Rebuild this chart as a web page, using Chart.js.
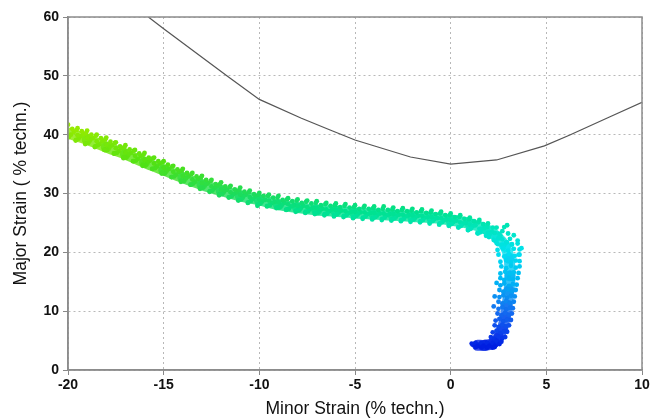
<!DOCTYPE html>
<html>
<head>
<meta charset="utf-8">
<script src="https://cdn.jsdelivr.net/npm/chart.js@4.4.1/dist/chart.umd.min.js"></script>
<style>
  body { margin: 0; background: #fff; }
  #wrap { width: 662px; height: 420px; }
</style>
</head>
<body>
<div id="wrap"><canvas id="fld" width="662" height="420"></canvas></div>
<script>
// ----------------------------------------------------
//  dados (deformações em % techn.)
// ----------------------------------------------------
const xTicks = [-20, -15, -10, -5, 0, 5, 10];
const yTicks = [0, 10, 20, 30, 40, 50, 60];

// curva limite (FLC)
const flcX = [-15.8, -15, -11.7, -10, -7.8, -6.3, -5, -2.1, 0, 2.4, 4.9, 6.2, 8.3, 10];
const flcY = [60, 58, 50, 46, 42.8, 40.8, 39.1, 36.2, 35, 35.7, 38.1, 39.9, 43, 45.5];

// linha central da nuvem de pontos
const centroX = [-20, -19, -18, -17, -16, -15, -14, -13, -12, -11, -10, -9, -8, -7, -6, -5, -4, -3, -2, -1, 0, 1, 1.8, 2.4, 2.85, 3.05, 3.1, 3.05, 2.95, 2.85, 2.7, 2.5, 2.2, 1.8, 1.4];
const centroY = [40.3, 39.2, 37.9, 36.7, 35.3, 34.0, 32.7, 31.5, 30.5, 29.6, 28.9, 28.1, 27.6, 27.2, 27.0, 26.7, 26.5, 26.3, 26.1, 25.9, 25.5, 24.9, 24.0, 22.7, 21.0, 19.0, 16.0, 13.5, 11.0, 9.0, 7.0, 5.5, 4.5, 4.2, 4.2];

// nuvem de pontos medidos, por trecho
const bandSteep = [
  [-20,41.7],[-19.7,40.5],[-19.85,40.0],[-19.6,39.0],[-19.95,39.6],[-19.78,41.0],
  [-19.5,41.1],[-19.2,40.1],[-19.35,39.7],[-19.1,38.4],[-19.45,39.3],[-19.28,40.6],
  [-19,40.7],[-18.7,39.4],[-18.85,39.2],[-18.6,37.9],[-18.95,38.6],[-18.78,40.0],
  [-18.5,40.0],[-18.2,38.9],[-18.35,38.4],[-18.1,37.4],[-18.45,38.2],[-18.28,39.4],
  [-18,39.5],[-17.7,38.2],[-17.85,37.9],[-17.6,36.8],[-17.95,37.4],[-17.78,38.8],
  [-17.5,38.7],[-17.2,37.7],[-17.35,37.2],[-17.1,36.0],[-17.45,36.9],[-17.28,38.0],
  [-17,38.2],[-16.7,36.9],[-16.85,36.6],[-16.6,35.5],[-16.95,36.1],[-16.78,37.5],
  [-16.5,37.4],[-16.2,36.4],[-16.35,35.9],[-16.1,34.7],[-16.45,35.6],[-16.28,36.8],
  [-16,36.9],[-15.7,35.6],[-15.85,35.3],[-15.6,34.2],[-15.95,34.8],[-15.78,36.1],
  [-15.5,36.1],[-15.2,35.1],[-15.35,34.6],[-15.1,33.4],[-15.45,34.3],[-15.28,35.5],
  [-15,35.5],[-14.7,34.2],[-14.85,33.9],[-14.6,32.8],[-14.95,33.4],[-14.78,34.9],
  [-14.5,34.7],[-14.2,33.7],[-14.35,33.2],[-14.1,32.0],[-14.45,32.9],[-14.28,34.1],
  [-14,34.2],[-13.7,32.9],[-13.85,32.6],[-13.6,31.5],[-13.95,32.1],[-13.78,33.5],
  [-13.5,33.5],[-13.2,32.5],[-13.35,32.0],[-13.1,30.8],[-13.45,31.7],[-13.28,32.9],
  [-13,33.0],[-12.7,31.7],[-12.85,31.5],[-12.6,30.3],[-12.95,31.0],[-12.78,32.3],
  [-12.5,32.3],[-12.2,31.3],[-12.35,30.9],[-12.1,29.7],[-12.45,30.5],[-12.28,31.6],
  [-12,31.9],[-11.7,30.6],[-11.85,30.4],[-11.6,29.3],[-11.95,29.9],[-11.78,31.2],
  [-11.5,31.3],[-11.2,30.2],[-11.35,29.9],[-11.1,28.8],[-11.45,29.5],[-11.28,30.7],
  [-11,31.0],[-10.7,29.8],[-10.85,29.5],[-10.6,28.4],[-10.95,29.0],[-10.78,30.3],
  [-10.5,30.5],[-10.2,29.5],[-10.35,29.1],[-10.1,27.9],[-10.45,28.7],[-10.28,29.9]
];
const bandFlat = [
  [-10,30.1],[-9.7,28.9],[-9.85,28.7],[-9.6,27.8],[-9.95,28.3],[-9.78,29.6],
  [-9.5,29.8],[-9.2,28.6],[-9.35,28.4],[-9.1,27.5],[-9.45,28.0],[-9.28,29.3],
  [-9,29.6],[-8.7,28.4],[-8.85,28.0],[-8.6,27.2],[-8.95,27.7],[-8.78,28.9],
  [-8.5,29.2],[-8.2,28.0],[-8.35,27.8],[-8.1,26.9],[-8.45,27.4],[-8.28,28.7],
  [-8,29.0],[-7.7,27.9],[-7.85,27.5],[-7.6,26.7],[-7.95,27.2],[-7.78,28.4],
  [-7.5,28.8],[-7.2,27.6],[-7.35,27.4],[-7.1,26.5],[-7.45,27.0],[-7.28,28.3],
  [-7,28.7],[-6.7,27.4],[-6.85,27.2],[-6.6,26.3],[-6.95,26.8],[-6.78,28.0],
  [-6.5,28.4],[-6.2,27.3],[-6.35,27.0],[-6.1,26.1],[-6.45,26.6],[-6.28,27.9],
  [-6,28.3],[-5.7,27.1],[-5.85,26.9],[-5.6,26.0],[-5.95,26.5],[-5.78,27.7],
  [-5.5,28.2],[-5.2,26.9],[-5.35,26.7],[-5.1,25.8],[-5.45,26.3],[-5.28,27.6],
  [-5,28.0],[-4.7,26.8],[-4.85,26.6],[-4.6,25.7],[-4.95,26.2],[-4.78,27.4],
  [-4.5,27.9],[-4.2,26.7],[-4.35,26.5],[-4.1,25.6],[-4.45,26.1],[-4.28,27.4],
  [-4,27.8],[-3.7,26.6],[-3.85,26.4],[-3.6,25.5],[-3.95,26.0],[-3.78,27.2],
  [-3.5,27.8],[-3.2,26.5],[-3.35,26.3],[-3.1,25.4],[-3.45,25.9],[-3.28,27.2],
  [-3,27.6],[-2.7,26.4],[-2.85,26.2],[-2.6,25.3],[-2.95,25.8],[-2.78,27.0],
  [-2.5,27.5],[-2.2,26.3],[-2.35,26.1],[-2.1,25.2],[-2.45,25.7],[-2.28,27.0],
  [-2,27.4],[-1.7,26.2],[-1.85,26.0],[-1.6,25.1],[-1.95,25.6],[-1.78,26.8],
  [-1.5,27.3],[-1.2,26.0],[-1.35,25.9],[-1.1,24.9],[-1.45,25.5],[-1.28,26.7],
  [-1,27.1],[-0.7,25.8],[-0.85,25.7],[-0.6,24.7],[-0.95,25.3],[-0.78,26.5],
  [-0.5,26.9],[-0.2,25.6],[-0.35,25.5],[-0.1,24.5],[-0.45,25.1],[-0.28,26.3]
];
// pontos que preenchem os vãos da faixa
const bandFill = [
  [-19.55,40.8],[-19.5,39.9],[-19.58,39.1],[-19.05,40.3],[-19.0,39.5],[-19.08,38.5],
  [-18.55,39.8],[-18.5,38.9],[-18.58,38.0],[-18.05,39.2],[-18.0,38.3],[-18.08,37.5],
  [-17.55,38.6],[-17.5,37.7],[-17.58,36.8],[-17.05,37.9],[-17.0,37.0],[-17.08,36.2],
  [-16.55,37.3],[-16.5,36.4],[-16.58,35.5],[-16.05,36.6],[-16.0,35.7],[-16.08,34.9],
  [-15.55,36.0],[-15.5,35.1],[-15.58,34.2],[-15.05,35.3],[-15.0,34.4],[-15.08,33.6],
  [-14.55,34.6],[-14.5,33.7],[-14.58,32.8],[-14.05,33.9],[-14.0,33.0],[-14.08,32.2],
  [-13.55,33.3],[-13.5,32.4],[-13.58,31.5],[-13.05,32.7],[-13.0,31.8],[-13.08,31.0],
  [-12.55,32.1],[-12.5,31.2],[-12.58,30.4],[-12.05,31.6],[-12.0,30.7],[-12.08,29.9],
  [-11.55,31.1],[-11.5,30.2],[-11.58,29.4],[-11.05,30.6],[-11.0,29.8],[-11.08,28.9],
  [-10.55,30.2],[-10.5,29.4],[-10.58,28.5],[-10.05,29.8],[-10.0,29.0],[-10.08,28.1],
  [-9.55,29.6],[-9.5,28.8],[-9.58,27.9],[-9.05,29.3],[-9.0,28.5],[-9.08,27.6],
  [-8.55,29.0],[-8.5,28.2],[-8.58,27.3],[-8.05,28.8],[-8.0,27.9],[-8.08,27.1],
  [-7.55,28.6],[-7.5,27.7],[-7.58,26.9],[-7.05,28.4],[-7.0,27.5],[-7.08,26.7],
  [-6.55,28.2],[-6.5,27.3],[-6.58,26.5],[-6.05,28.0],[-6.0,27.2],[-6.08,26.3],
  [-5.55,27.9],[-5.5,27.0],[-5.58,26.2],[-5.05,27.7],[-5.0,26.9],[-5.08,26.0],
  [-4.55,27.6],[-4.5,26.8],[-4.58,25.9],[-4.05,27.5],[-4.0,26.7],[-4.08,25.8],
  [-3.55,27.4],[-3.5,26.6],[-3.58,25.7],[-3.05,27.3],[-3.0,26.5],[-3.08,25.6],
  [-2.55,27.2],[-2.5,26.4],[-2.58,25.5],[-2.05,27.1],[-2.0,26.3],[-2.08,25.4],
  [-1.55,27.0],[-1.5,26.2],[-1.58,25.3],[-1.05,26.8],[-1.0,26.0],[-1.08,25.1],
  [-0.55,26.6],[-0.5,25.8],[-0.58,24.9],[-0.05,26.3],[0.0,25.5],[-0.08,24.6],
  [0.45,26.0],[0.5,25.1],[0.42,24.3],[0.95,25.6],[1.0,24.7],[0.92,23.8],
  [1.45,25.1],[1.5,24.0],[1.42,23.2],[1.9,24.3],[1.95,23.3],[2.3,23.3],
  [2.55,23.1],[2.7,22.2],[2.8,21.2]
];
const bandTurn = [
  [0,26.6],[0.3,25.4],[0.15,25.2],[0.4,24.2],[0.05,24.8],[0.22,26.0],
  [0.5,26.3],[0.8,25.0],[0.65,24.9],[0.9,23.8],[0.55,24.5],[0.72,25.7],
  [1,25.9],[1.3,24.6],[1.15,24.4],[1.4,23.3],[1.05,24.0],[1.22,25.3],
  [1.5,25.5],[1.75,24.1],[1.6,23.9],[1.85,22.8],[1.55,23.4],[1.7,24.8],
  [1.95,24.9],[2.15,23.5],[2.05,23.1],[2.25,22.1],[2.0,22.6],[2.2,24.2],
  [2.4,24.2],[2.6,22.8],[2.5,22.4],[2.45,21.4],[2.35,21.9],[2.7,23.6],
  [2.8,24.3],[3.0,23.2],[3.1,22.3],[2.9,21.7],[3.3,22.9],[3.5,22.0],
  [3.7,20.7],[3.55,19.6],[2.95,24.6],[3.2,21.3]
];
const bandDown = [
  [2.4,21.6],[2.65,21.3],[2.95,21.7],[3.2,21.4],[3.5,21.5],
  [2.45,20.4],[2.75,20.7],[3.0,20.3],[3.3,20.6],[3.6,20.5],
  [2.5,19.6],[2.8,19.3],[3.05,19.7],[3.35,19.4],[3.6,19.6],
  [2.6,18.4],[2.9,18.7],[3.15,18.3],[3.4,18.6],[3.6,18.5],
  [2.65,17.6],[2.9,17.3],[3.15,17.7],[3.4,17.4],[3.6,17.6],
  [2.6,16.4],[2.85,16.7],[3.1,16.3],[3.3,16.6],[3.55,16.5],
  [2.6,15.6],[2.8,15.3],[3.05,15.7],[3.25,15.4],[3.5,15.6],
  [2.6,14.4],[2.8,14.7],[3.05,14.3],[3.25,14.6],[3.45,14.5],
  [2.55,13.6],[2.75,13.3],[3.0,13.7],[3.2,13.4],[3.4,13.6],
  [2.55,12.4],[2.75,12.7],[2.95,12.3],[3.15,12.6],[3.35,12.5],
  [2.5,11.6],[2.7,11.3],[2.9,11.7],[3.1,11.4],[3.3,11.6],
  [2.5,10.4],[2.7,10.7],[2.9,10.3],[3.1,10.6],[3.25,10.5],
  [2.45,9.6],[2.65,9.3],[2.85,9.7],[3.05,9.4],[3.2,9.6],
  [2.35,8.4],[2.55,8.7],[2.75,8.3],[2.95,8.6],[3.15,8.5],
  [2.3,7.6],[2.5,7.3],[2.7,7.7],[2.9,7.4],[3.05,7.6],
  [2.2,6.4],[2.4,6.7],[2.6,6.3],[2.8,6.6],[2.95,6.5],
  [2.1,5.6],[2.3,5.3],[2.5,5.7],[2.7,5.4],[2.85,5.6],
  [2.3,12.5],[2.25,10.8],[2.4,14.8]
];
const bandFoot = [
  [1.15,4.3],[1.3,4.6],[1.3,3.9],[1.45,4.3],[1.6,4.6],[1.6,3.8],[1.75,4.2],
  [1.9,4.6],[1.9,3.8],[2.05,4.2],[2.2,4.6],[2.2,3.8],[2.35,4.2],[2.45,4.7],
  [1.4,4.0],[1.7,4.0],[2.0,4.0],[2.3,3.9],[2.4,5.0],
  [2.55,4.4],[2.65,4.8],[1.1,4.5]
];

// ----------------------------------------------------
//  cores (mapa pela deformação maior)
// ----------------------------------------------------
const colorStops = [
  [4, [0, 30, 225]],
  [6, [10, 60, 235]],
  [10, [20, 110, 240]],
  [15, [0, 180, 245]],
  [20, [0, 225, 240]],
  [24, [0, 230, 190]],
  [27, [0, 225, 140]],
  [30, [30, 220, 90]],
  [35, [80, 225, 20]],
  [41, [150, 235, 0]],
];

function corPorY(y, alpha = 1) {
  let c = colorStops[colorStops.length - 1][1];
  if (y <= colorStops[0][0]) {
    c = colorStops[0][1];
  } else {
    for (let i = 1; i < colorStops.length; i++) {
      const [y1, c1] = colorStops[i];
      const [y0, c0] = colorStops[i - 1];
      if (y <= y1) {
        const t = (y - y0) / (y1 - y0);
        c = c0.map((v, k) => Math.round(v + (c1[k] - v) * t));
        break;
      }
    }
  }
  return "rgba(" + c.join(",") + "," + alpha + ")";
}

const pontos = [...bandSteep, ...bandFlat, ...bandFill, ...bandTurn, ...bandDown, ...bandFoot]
  .map(([x, y]) => ({ x, y }));
const centro = centroX.map((x, i) => ({ x, y: centroY[i] }));
const flc = flcX.map((x, i) => ({ x, y: flcY[i] }));

// moldura do gráfico
const moldura = {
  id: "moldura",
  afterDatasetsDraw(chart) {
    const { ctx, chartArea: a } = chart;
    ctx.save();
    ctx.strokeStyle = "#8c8c8c";
    ctx.lineWidth = 1.5;
    ctx.strokeRect(a.left, a.top, a.right - a.left, a.bottom - a.top);
    ctx.restore();
  },
};

const tickFont = { family: "'Liberation Sans', Arial, sans-serif", size: 14, weight: "bold" };
const titleFont = { family: "'Liberation Sans', Arial, sans-serif", size: 17.5 };

const gradeComum = {
  color: "#b8b8b8",
  tickBorderDash: [],
  tickColor: "#888",
  tickLength: 5,
};

new Chart(document.getElementById("fld"), {
  type: "scatter",
  data: {
    datasets: [
      {
        label: "FLC",
        data: flc,
        showLine: true,
        borderColor: "#555",
        borderWidth: 1.2,
        pointRadius: 0,
        tension: 0,
      },
      {
        label: "Medições",
        data: pontos,
        pointRadius: 2.4,
        pointBorderWidth: 0,
        backgroundColor: (c) => corPorY(c.raw ? c.raw.y : 20),
      },
      {
        label: "Faixa",
        data: centro,
        showLine: true,
        pointRadius: 0,
        borderWidth: 11,
        borderCapStyle: "round",
        borderJoinStyle: "round",
        tension: 0.3,
        borderColor: corPorY(25, 0.8),
        segment: {
          borderColor: (s) => corPorY((s.p0.parsed.y + s.p1.parsed.y) / 2, 0.8),
        },
      },
    ],
  },
  options: {
    responsive: false,
    animation: false,
    layout: { padding: { top: 17, right: 20, left: 0, bottom: 0 } },
    plugins: { legend: { display: false }, tooltip: { enabled: false } },
    scales: {
      x: {
        type: "linear",
        min: -20,
        max: 10,
        afterBuildTicks: (s) => { s.ticks = xTicks.map((v) => ({ value: v })); },
        afterFit: (s) => { s.height = 50; },
        ticks: { font: tickFont, color: "#111", padding: 2 },
        grid: gradeComum,
        border: { color: "#8c8c8c", width: 1.5, dash: [2, 3] },
        title: {
          display: true,
          text: "Minor Strain (% techn.)",
          font: titleFont,
          color: "#111",
          padding: { top: 0, bottom: 0 },
        },
      },
      y: {
        type: "linear",
        min: 0,
        max: 60,
        afterBuildTicks: (s) => { s.ticks = yTicks.map((v) => ({ value: v })); },
        afterFit: (s) => { s.width = 68; },
        ticks: { font: tickFont, color: "#111", padding: 4 },
        grid: gradeComum,
        border: { color: "#8c8c8c", width: 1.5, dash: [2, 3] },
        title: {
          display: true,
          text: "Major Strain ( % techn.)",
          font: titleFont,
          color: "#111",
          padding: { top: 11, bottom: 0 },
        },
      },
    },
  },
  plugins: [moldura],
});
</script>
</body>
</html>
